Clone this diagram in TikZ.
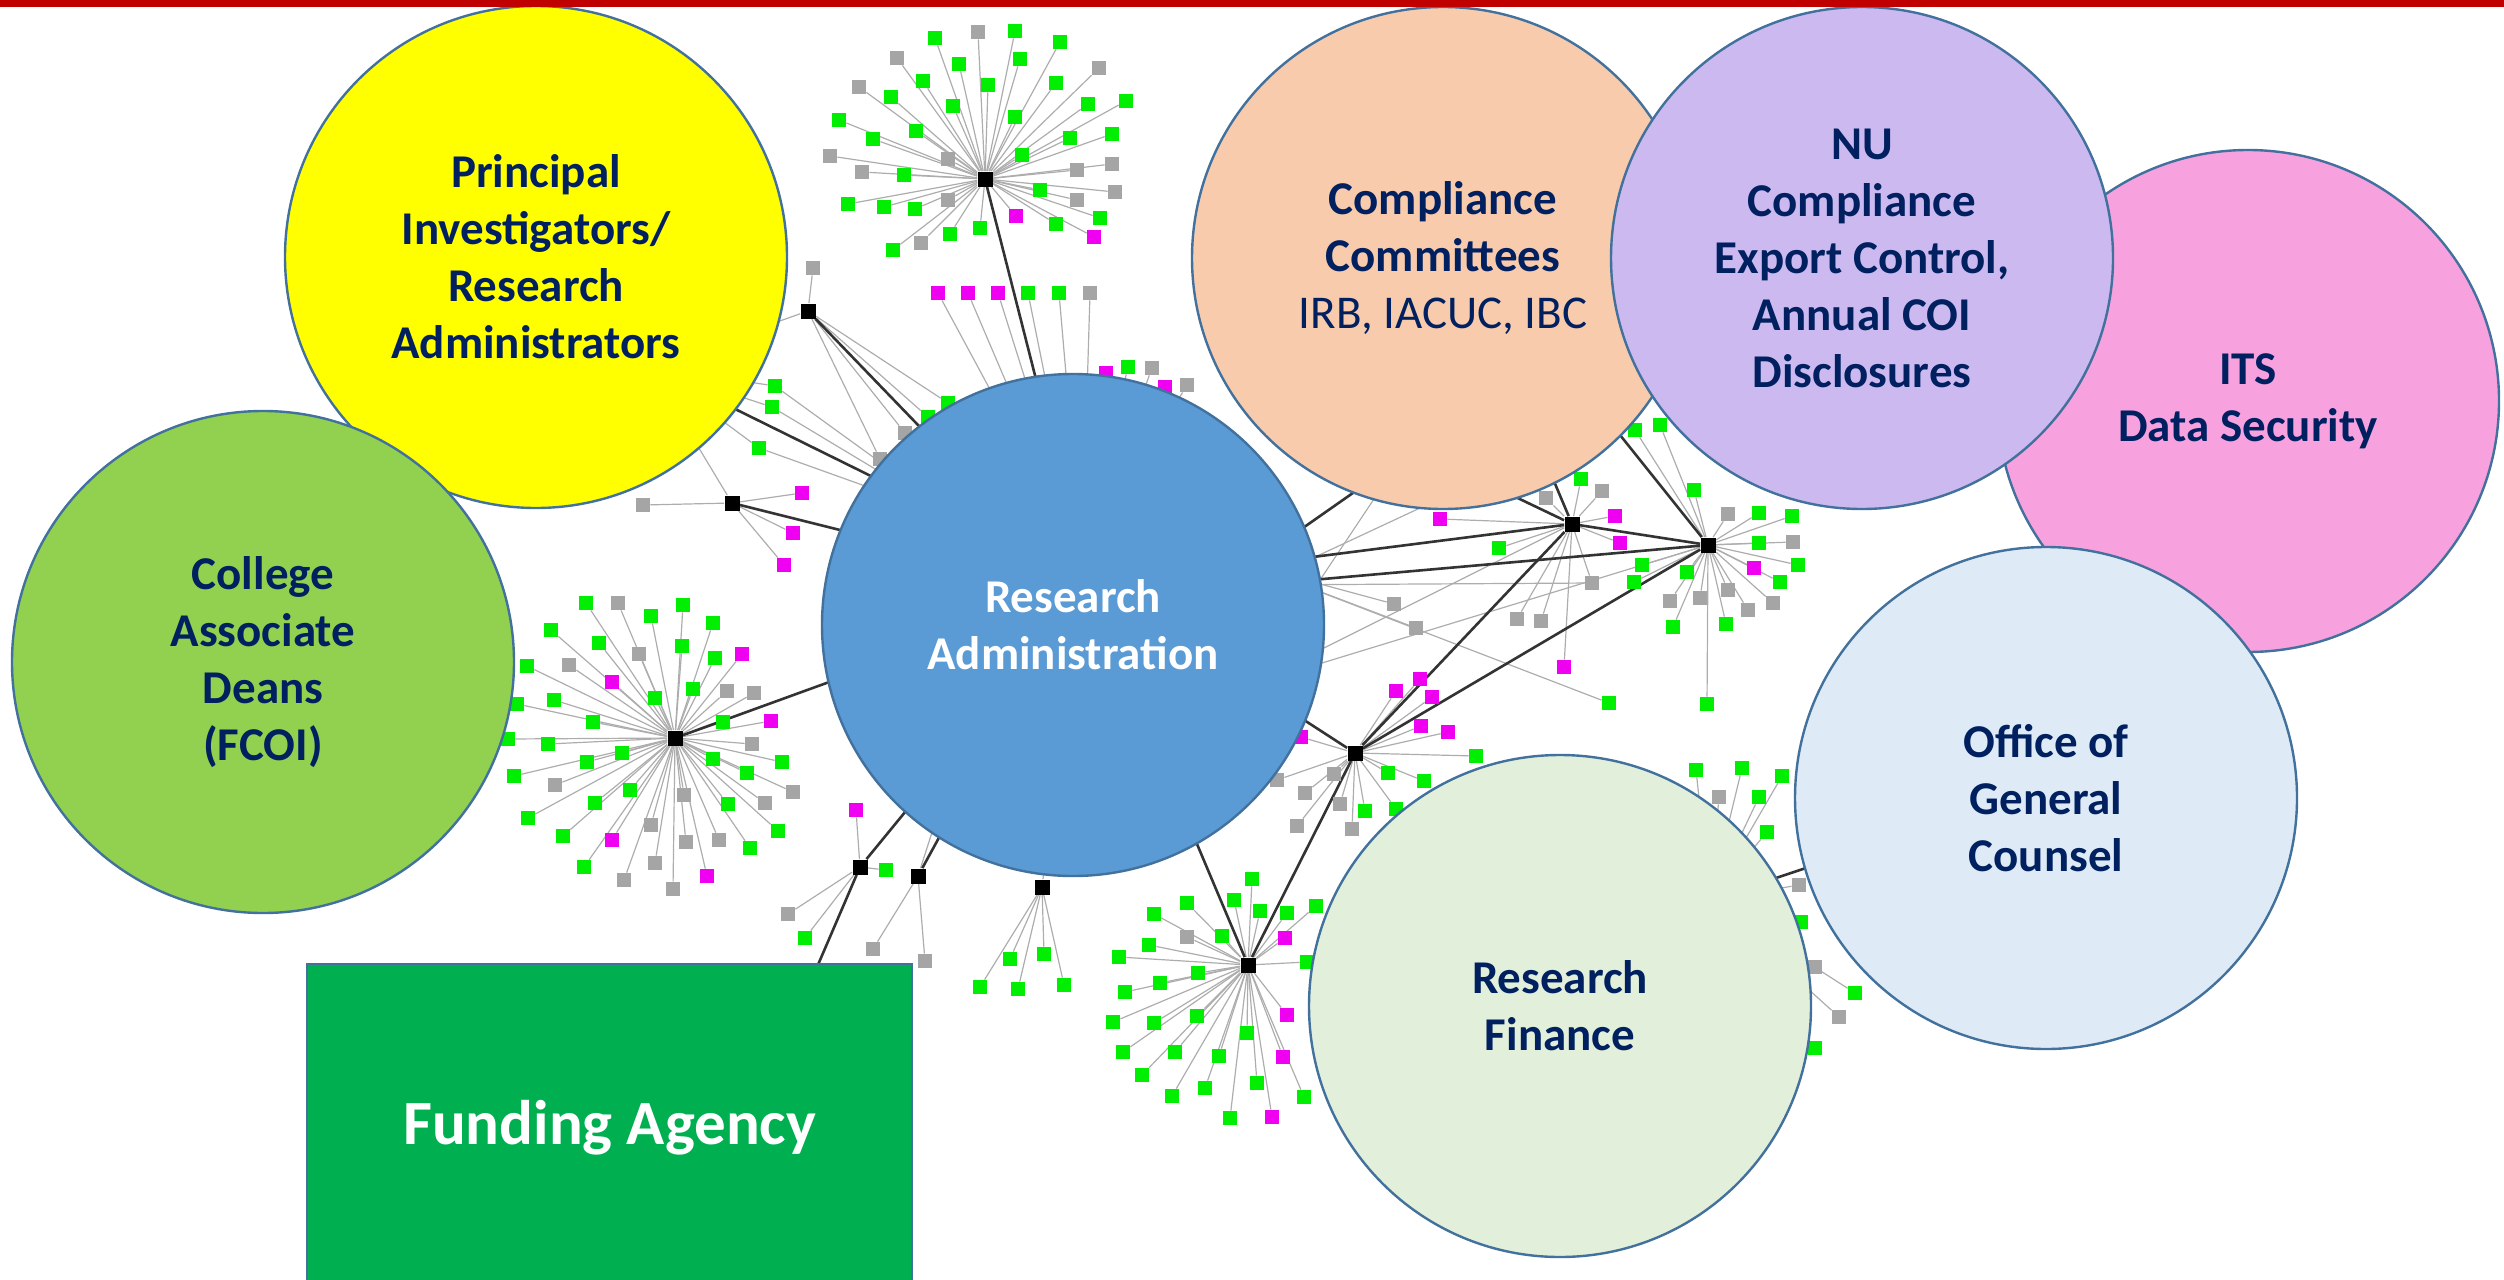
\documentclass[tikz,border=0pt]{standalone}
\usepackage{fontspec}
\setmainfont{Carlito}
\usetikzlibrary{backgrounds}

\definecolor{navy}{HTML}{002060}
\definecolor{circline}{HTML}{41719C}
\definecolor{piyellow}{HTML}{FFFF00}
\definecolor{deangreen}{HTML}{92D050}
\definecolor{adminblue}{HTML}{5B9BD5}
\definecolor{compeach}{HTML}{F8CBAD}
\definecolor{nulilac}{HTML}{CBB9EF}
\definecolor{itspink}{HTML}{F7A1DE}
\definecolor{counselblue}{HTML}{DEEBF7}
\definecolor{financegreen}{HTML}{E2EFDA}
\definecolor{fundgreen}{HTML}{00B050}
\definecolor{topred}{HTML}{C00000}
\definecolor{lg}{HTML}{00EE00}
\definecolor{lk}{HTML}{A5A5A5}
\definecolor{lm}{HTML}{F000F0}

\tikzset{
  hub/.style={rectangle, fill=black, minimum size=7.5pt, inner sep=0pt},
  leaf/.style={rectangle, minimum size=7pt, inner sep=0pt},
  spoke/.style={draw=black!32, line width=0.6pt},
  link/.style={draw=black!80, line width=1.3pt},
  party/.style={circle, draw=circline, line width=1.2pt, minimum size=251pt, inner sep=0pt,
    align=center, text=navy, font=\fontsize{23.5}{28.5}\selectfont\bfseries},
  fundbox/.style={rectangle, draw=circline, line width=1.2pt, fill=fundgreen, minimum width=302.5pt,
    minimum height=164pt, text=white, font=\fontsize{31.5}{37}\selectfont\bfseries}
}

\newcommand{\starleaves}[2]{%
  \foreach \x/\y/\col [count=\i] in {#2}
  {
    \node[leaf, fill=\col] (#1-\i) at (\x,\y) {};
    \begin{pgfonlayer}{background}
      \draw[spoke] (#1) -- (#1-\i);
    \end{pgfonlayer}
  }%
}

\begin{document}
\begin{tikzpicture}[x=0.5pt, y=-0.5pt]
  \useasboundingbox (0,0) rectangle (2504,1279);

  % network behind the circles
  \node[hub] (hubTop) at (985,179) {};
  \node[hub] (hubPI) at (808,311) {};
  \node[hub] (hubSide) at (732,503) {};
  \node[hub] (hubLeft) at (675,738) {};
  \node[hub] (hubFootA) at (860,867) {};
  \node[hub] (hubFootB) at (918,876) {};
  \node[hub] (hubFootC) at (1042,887) {};
  \node[hub] (hubLow) at (1248,965) {};
  \node[hub] (hubMid) at (1355,753) {};
  \node[hub] (hubRA) at (1572,524) {};
  \node[hub] (hubRB) at (1708,545) {};

  \coordinate (inYellow) at (650,367);
  \coordinate (inBlueA) at (1082,560);
  \coordinate (inBlueB) at (1000,510);
  \coordinate (inBlueC) at (960,520);
  \coordinate (inBlueD) at (1000,570);
  \coordinate (inBlueE) at (1000,620);
  \coordinate (inBlueF) at (960,745);
  \coordinate (inBlueG) at (965,790);
  \coordinate (inBlueH) at (1170,780);
  \coordinate (inBlueI) at (1250,685);
  \coordinate (inBlueJ) at (1250,565);
  \coordinate (inBlueK) at (1255,585);
  \coordinate (inPeachL) at (1480,480);
  \coordinate (inPeachM) at (1545,460);
  \coordinate (inPeachN) at (1600,410);
  \coordinate (inPeachO) at (1400,460);
  \coordinate (inFund) at (790,1030);
  \coordinate (inFinance) at (1710,900);
  \coordinate (inOffice) at (1860,850);

  \starleaves{hubTop}{935/38/lg, 978/32/lk, 1015/31/lg, 1060/42/lg, 897/58/lk, 959/64/lg, 1020/59/lg,
    1099/68/lk, 859/87/lk, 923/81/lg, 988/85/lg, 1056/83/lg, 1126/101/lg, 891/97/lg, 953/106/lg,
    1015/117/lg, 1088/104/lg, 839/120/lg, 916/131/lg, 1070/138/lg, 1112/134/lg, 873/139/lg,
    948/159/lk, 1022/155/lg, 830/156/lk, 862/172/lk, 904/175/lg, 1077/170/lk, 1112/164/lk,
    1040/190/lg, 1115/192/lk, 1077/200/lk, 848/204/lg, 884/207/lg, 915/209/lg, 948/200/lk,
    1016/216/lm, 1100/218/lg, 1056/224/lg, 1094/237/lm, 980/228/lg, 950/234/lg, 921/243/lk, 893/250/lg}
  \starleaves{inBlueA}{938/293/lm, 968/293/lm, 998/293/lm, 1028/293/lg, 1059/293/lg, 1090/293/lk,
    1106/373/lm, 1128/367/lg, 1152/368/lk, 1165/387/lm, 1187/385/lk}
  \starleaves{hubPI}{813/268/lk, 948/403/lg, 928/417/lg, 905/433/lk, 880/459/lk}
  \starleaves{inYellow}{775/386/lg, 772/407/lg, 759/448/lg}
  \starleaves{hubSide}{643/505/lk, 802/493/lm, 793/533/lm, 784/565/lm}
  \starleaves{hubLeft}{586/603/lg, 618/603/lk, 651/616/lg, 683/605/lg, 713/623/lg, 551/630/lg,
    599/643/lg, 639/654/lk, 682/646/lg, 715/658/lg, 742/654/lm, 527/666/lg, 569/665/lk, 612/682/lm,
    655/698/lg, 693/689/lg, 727/691/lk, 754/693/lk, 517/704/lg, 554/700/lg, 593/722/lg, 723/722/lg,
    771/721/lm, 508/739/lg, 548/744/lg, 752/744/lk, 622/753/lg, 587/762/lg, 713/759/lg, 782/762/lg,
    514/776/lg, 555/785/lk, 747/773/lg, 630/790/lg, 684/795/lk, 793/792/lk, 595/803/lg, 728/804/lg,
    765/803/lk, 528/818/lg, 778/831/lg, 651/825/lk, 563/836/lg, 612/840/lm, 686/842/lk, 719/840/lk,
    750/848/lg, 655/863/lk, 584/867/lg, 707/876/lm, 624/880/lk, 673/889/lk}
  \starleaves{hubFootA}{856/810/lm, 788/914/lk, 805/938/lg, 886/870/lg}
  \starleaves{hubFootB}{873/949/lk, 925/961/lk}
  \starleaves{hubFootC}{980/987/lg, 1018/989/lg, 1064/985/lg, 1010/959/lg, 1044/954/lg}
  \starleaves{hubLow}{1252/879/lg, 1187/903/lg, 1234/900/lg, 1260/911/lg, 1287/913/lg, 1316/906/lg,
    1154/914/lg, 1187/937/lk, 1222/936/lg, 1285/938/lm, 1149/945/lg, 1119/957/lg, 1307/962/lg,
    1198/973/lg, 1160/983/lg, 1125/992/lg, 1113/1022/lg, 1154/1023/lg, 1197/1016/lg, 1287/1015/lm,
    1247/1033/lg, 1123/1052/lg, 1175/1052/lg, 1219/1056/lg, 1283/1057/lm, 1142/1075/lg, 1257/1083/lg,
    1205/1088/lg, 1172/1096/lg, 1304/1097/lg, 1230/1118/lg, 1272/1117/lm}
  \starleaves{hubMid}{1396/691/lm, 1420/679/lm, 1432/697/lm, 1421/726/lm, 1448/732/lm, 1476/756/lg,
    1388/773/lg, 1424/781/lg, 1396/809/lg, 1365/811/lg, 1334/774/lk, 1305/793/lk, 1340/804/lk,
    1297/826/lk, 1352/829/lk, 1277/780/lk, 1301/737/lm}
  \starleaves{hubRA}{1581/479/lg, 1602/491/lk, 1546/498/lk, 1615/516/lm, 1620/543/lm, 1499/548/lg,
    1440/519/lm, 1592/583/lk, 1517/619/lk, 1541/621/lk, 1564/667/lm}
  \starleaves{hubRB}{1635/430/lg, 1660/425/lg, 1694/490/lg, 1728/514/lk, 1759/513/lg, 1792/516/lg,
    1759/543/lg, 1793/542/lk, 1754/568/lm, 1798/565/lg, 1780/582/lg, 1642/565/lg, 1687/572/lg,
    1634/582/lg, 1728/590/lk, 1670/601/lk, 1700/598/lk, 1748/610/lk, 1773/603/lk, 1673/627/lg,
    1726/624/lg, 1707/704/lg}
  \starleaves{inBlueJ}{1394/604/lk, 1416/628/lk, 1609/703/lg}
  \starleaves{inFinance}{1696/770/lg, 1742/768/lg, 1782/776/lg, 1719/797/lk, 1759/797/lg, 1767/832/lg,
    1799/885/lk, 1801/922/lg, 1815/967/lk, 1855/993/lg, 1839/1017/lk, 1815/1048/lg}

  \begin{pgfonlayer}{background}
    \foreach \a/\b in {inYellow/hubPI, inYellow/hubSide, inYellow-1/inBlueC, inYellow-2/inBlueC,
      inYellow-3/inBlueC, hubPI-4/inBlueB, hubFootC/inBlueA, hubFootB/inBlueF, inBlueJ/hubRA,
      inBlueK/hubRB, inBlueI/hubRA, inBlueI/hubRB, inBlueK/hubRA-8, inBlueI/inPeachO, inBlueK/inPeachL}
      \draw[spoke] (\a) -- (\b);
    \foreach \a/\b in {hubTop/inBlueA, hubPI/inBlueB, inYellow/inBlueC, hubSide/inBlueD, hubLeft/inBlueE,
      hubFootA/inBlueF, hubFootA/inFund, hubFootB/inBlueG, hubLow/inBlueH, hubLow/hubMid,
      hubMid/inBlueI, hubMid/hubRA, hubMid/hubRB, hubRA/hubRB, hubRA/inBlueJ, hubRB/inBlueK,
      hubRA/inPeachL, hubRA/inPeachM, hubRB/inPeachN, inBlueJ/inPeachO, inFinance/inOffice}
      \draw[link] (\a) -- (\b);
  \end{pgfonlayer}

  % the parties
  \node[party, fill=piyellow] (pi) at (536,257) {Principal\\Investigators/\\Research\\Administrators};
  \node[party, fill=deangreen] (deans) at (263,662) {College\\Associate\\Deans\\(FCOI)};
  \node[party, fill=adminblue, text=white] (admin) at (1073,625) {Research\\Administration};
  \node[party, fill=compeach] (committees) at (1443,258) {Compliance\\Committees\\{\mdseries IRB, IACUC, IBC}};
  \node[party, fill=itspink] (its) at (2248,401) {ITS\\Data Security};
  \node[party, fill=nulilac] (nu) at (1862,258) {NU\\Compliance\\Export Control,\\Annual COI\\Disclosures};
  \node[party, fill=counselblue] (counsel) at (2046,798) {Office of\\General\\Counsel};
  \node[party, fill=financegreen] (finance) at (1560,1006) {Research\\Finance};
  \node[fundbox] (fund) at (609.5,1128) {Funding Agency};

  \fill[topred] (0,0) rectangle (2504,7);
\end{tikzpicture}
\end{document}
